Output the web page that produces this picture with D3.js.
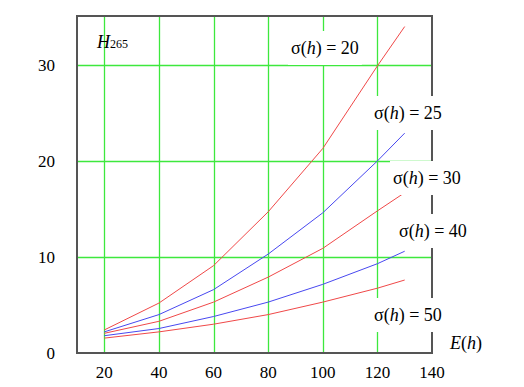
<!DOCTYPE html>
<html>
<head>
<meta charset="utf-8">
<script src="https://cdn.jsdelivr.net/npm/d3@7"></script>
<style>
  body { margin: 0; background: #fff; }
  #chart text { font-family: "Liberation Serif", "Times New Roman", "DejaVu Serif", serif; }
</style>
</head>
<body>
<svg id="chart"></svg>
<script>
// E(h) values where the curves were sampled
var eValues = [20, 40, 60, 80, 100, 120, 130];
// H265 for each sigma(h)
var sigma20 = [2.4, 5.2, 9.1, 14.7, 21.3, 29.9, 34.0];
var sigma25 = [2.2, 4.0, 6.6, 10.3, 14.6, 20.0, 22.9];
var sigma30 = [2.05, 3.3, 5.3, 7.9, 10.9, 14.8, 16.7];
var sigma40 = [1.8, 2.55, 3.8, 5.3, 7.15, 9.3, 10.6];
var sigma50 = [1.55, 2.2, 3.0, 4.0, 5.3, 6.75, 7.6];
var sigmaNames = ["20", "25", "30", "40", "50"];
var xTicks = [20, 40, 60, 80, 100, 120, 140];
var yTicks = [0, 10, 20, 30];

var w = 524, h = 387;
var plotL = 77, plotR = 432, plotT = 16, plotB = 353;

var svg = d3.select("#chart").attr("width", w).attr("height", h);

var x = d3.scaleLinear().domain([10, 140]).range([plotL, plotR]);
var y = d3.scaleLinear().domain([0, 35.1]).range([plotB, plotT]);

// grid
svg.selectAll("line.vgrid")
  .data(xTicks.filter(function(d){ return d < 140; }))
  .enter().append("line")
  .attr("x1", function(d){ return Math.round(x(d)) + 0.5; })
  .attr("x2", function(d){ return Math.round(x(d)) + 0.5; })
  .attr("y1", plotT).attr("y2", plotB)
  .style("stroke", "#3de83d").style("stroke-width", 1.3);

svg.selectAll("line.hgrid")
  .data(yTicks.filter(function(d){ return d > 0; }))
  .enter().append("line")
  .attr("x1", plotL).attr("x2", plotR)
  .attr("y1", function(d){ return Math.round(y(d)) + 0.5; })
  .attr("y2", function(d){ return Math.round(y(d)) + 0.5; })
  .style("stroke", "#3de83d").style("stroke-width", 1.3);

// curves
var series = [sigma20, sigma25, sigma30, sigma40, sigma50];
var colors = ["#f04848", "#4848f0", "#f04848", "#4848f0", "#f04848"];
var line = d3.line()
  .x(function(d, i){ return x(eValues[i]); })
  .y(function(d){ return y(d); });

svg.selectAll("path.curve")
  .data(series)
  .enter().append("path")
  .attr("d", line)
  .style("fill", "none")
  .style("stroke", function(d, i){ return colors[i]; })
  .style("stroke-width", 1);

// frame
svg.append("rect")
  .attr("x", plotL).attr("y", plotT)
  .attr("width", plotR - plotL).attr("height", plotB - plotT)
  .style("fill", "none").style("stroke", "#555").style("stroke-width", 2);

// tick labels
svg.selectAll("text.ylab")
  .data(yTicks)
  .enter().append("text")
  .attr("x", 55)
  .attr("y", function(d){ return y(d) + 6; })
  .attr("text-anchor", "end")
  .style("font-size", "17px")
  .text(function(d){ return d; });

svg.selectAll("text.xlab")
  .data(xTicks)
  .enter().append("text")
  .attr("x", function(d){ return x(d); })
  .attr("y", 378)
  .attr("text-anchor", "middle")
  .style("font-size", "17px")
  .text(function(d){ return d; });

// sigma labels, with white boxes behind them
var labelPos = [[291, 48], [374, 113], [393, 178], [399, 231], [374, 315]];
sigmaNames.forEach(function(name, i){
  var g = svg.append("g");
  var bx = g.append("rect").style("fill", "#fff");
  var t = g.append("text")
    .attr("x", labelPos[i][0])
    .attr("y", labelPos[i][1] + 6)
    .style("font-size", "18px");
  t.append("tspan").text("\u03c3(");
  t.append("tspan").style("font-style", "italic").text("h");
  t.append("tspan").text(") = " + name);
  var b = t.node().getBBox();
  bx.attr("x", b.x - 3).attr("y", labelPos[i][1] - 17)
    .attr("width", b.width + 6).attr("height", 34);
});

// axis titles
var hl = svg.append("text").attr("x", 97).attr("y", 48).style("font-size", "18px");
hl.append("tspan").style("font-style", "italic").text("H");
hl.append("tspan").style("font-size", "12px").text("265");

var el = svg.append("text").attr("x", 450).attr("y", 349).style("font-size", "18px");
el.append("tspan").style("font-style", "italic").text("E");
el.append("tspan").text("(");
el.append("tspan").style("font-style", "italic").text("h");
el.append("tspan").text(")");
</script>
</body>
</html>
